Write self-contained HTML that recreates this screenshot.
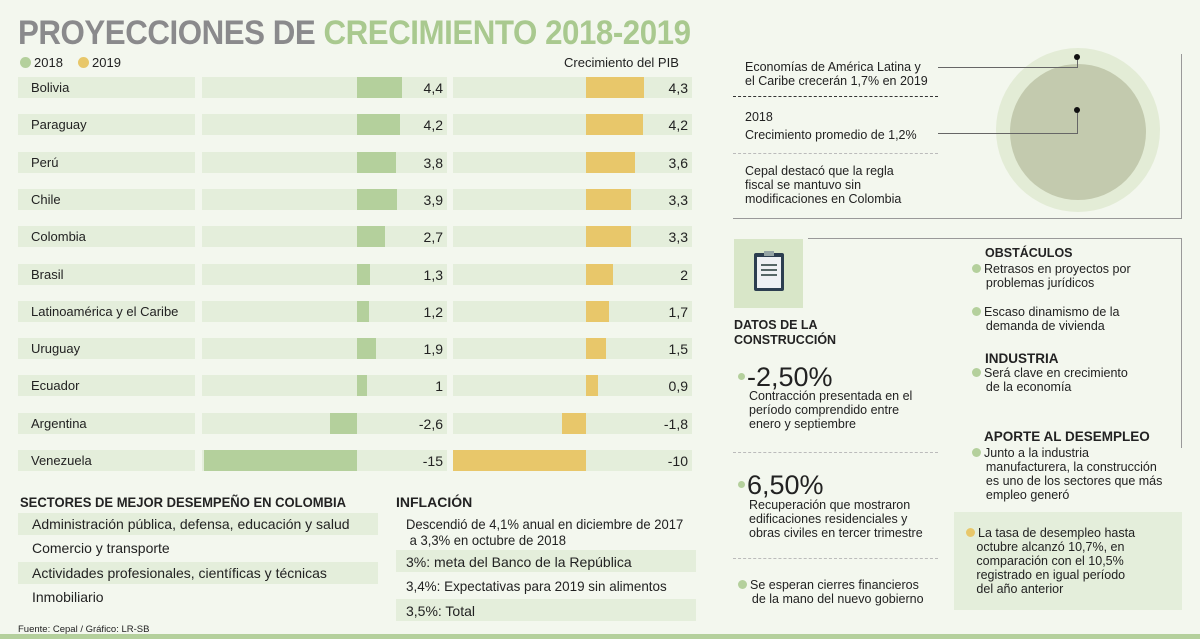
<!DOCTYPE html>
<html><head><meta charset="utf-8">
<style>
body{margin:0;width:1200px;height:639px;background:#f3f7ee;position:relative;overflow:hidden;font-family:"Liberation Sans Narrow","Liberation Sans",sans-serif;color:#222}
.a{position:absolute;white-space:nowrap}
.t{font-size:13px}
.track{position:absolute;background:#e4eedb}
.h{font-weight:bold;font-size:13px}
.r{font-family:"Liberation Sans",sans-serif;font-size:12.5px;line-height:14px;color:#222}
.dot{display:inline-block;width:9px;height:9px;border-radius:50%;background:#b4d09c;margin-right:3px}
.dash{position:absolute;border-top:1px dashed #777;height:0}
</style></head><body>
<div class="a" style="left:18px;top:14px;font-size:34px;font-weight:bold;color:#8a8a8c;letter-spacing:-0.5px;transform:scaleX(0.92);transform-origin:left">PROYECCIONES DE <span style="color:#a9c98f">CRECIMIENTO 2018-2019</span></div>
<div class="a t" style="left:20px;top:55px"><span class="dot" style="width:11px;height:11px;vertical-align:-1px"></span>2018</div>
<div class="a t" style="left:78px;top:55px"><span class="dot" style="width:11px;height:11px;vertical-align:-1px;background:#e8c76a"></span>2019</div>
<div class="a t" style="left:564px;top:55px">Crecimiento del PIB</div>
<div id="chart"></div>

<div class="a h" style="left:20px;top:494px;font-size:14px;transform:scaleX(0.93);transform-origin:left">SECTORES DE MEJOR DESEMPEÑO EN COLOMBIA</div>
<div class="track" style="left:18px;top:513px;width:360px;height:22px"></div>
<div class="track" style="left:18px;top:562px;width:360px;height:22px"></div>
<div class="a t" style="left:32px;top:516px;font-size:14px">Administración pública, defensa, educación y salud</div>
<div class="a t" style="left:32px;top:540px;font-size:14px">Comercio y transporte</div>
<div class="a t" style="left:32px;top:565px;font-size:14px">Actividades profesionales, científicas y técnicas</div>
<div class="a t" style="left:32px;top:589px;font-size:14px">Inmobiliario</div>
<div class="a" style="left:18px;top:624px;font-size:9.5px">Fuente: Cepal / Gráfico: LR-SB</div>

<div class="a h" style="left:396px;top:494px;font-size:14px">INFLACIÓN</div>
<div class="track" style="left:396px;top:550px;width:300px;height:22px"></div>
<div class="track" style="left:396px;top:599px;width:300px;height:22px"></div>
<div class="a t" style="left:406px;top:516px;font-size:14px;line-height:16px;transform:scaleX(0.93);transform-origin:left">Descendió de 4,1% anual en diciembre de 2017<br>&nbsp;a 3,3% en octubre de 2018</div>
<div class="a t" style="left:406px;top:554px;font-size:14px">3%: meta del Banco de la República</div>
<div class="a t" style="left:406px;top:578px;font-size:14px;transform:scaleX(0.96);transform-origin:left">3,4%: Expectativas para 2019 sin alimentos</div>
<div class="a t" style="left:406px;top:603px;font-size:14px">3,5%: Total</div>
<div class="a" style="left:0;top:634px;width:1200px;height:5px;background:#b4d09c"></div>

<!-- top right -->
<div class="a" style="left:996px;top:48px;width:164px;height:164px;border-radius:50%;background:#e3ecd6"></div>
<div class="a" style="left:1010px;top:64px;width:136px;height:136px;border-radius:50%;background:#c3caae"></div>
<div class="a" style="left:1181px;top:54px;width:1px;height:164px;background:#999"></div>
<div class="a" style="left:733px;top:218px;width:449px;height:1px;background:#999"></div>
<div class="a r" style="left:745px;top:60px">Economías de América Latina y<br>el Caribe crecerán 1,7% en 2019</div>
<div class="a" style="left:938px;top:67px;width:140px;height:1px;background:#666"></div>
<div class="a" style="left:1077px;top:57px;width:1px;height:11px;background:#666"></div>
<div class="a" style="left:1074px;top:54px;width:6px;height:6px;border-radius:50%;background:#111"></div>
<div class="dash" style="left:733px;top:96px;width:205px;border-top:1.5px dashed #333"></div>
<div class="a r" style="left:745px;top:108px;line-height:18px">2018<br>Crecimiento promedio de 1,2%</div>
<div class="a" style="left:938px;top:133px;width:140px;height:1px;background:#666"></div>
<div class="a" style="left:1077px;top:110px;width:1px;height:24px;background:#666"></div>
<div class="a" style="left:1074px;top:107px;width:6px;height:6px;border-radius:50%;background:#111"></div>
<div class="dash" style="left:733px;top:153px;width:205px;border-top:1px dashed #bbb"></div>
<div class="a r" style="left:745px;top:164px">Cepal destacó que la regla<br>fiscal se mantuvo sin<br>modificaciones en Colombia</div>

<!-- construction -->
<div class="a" style="left:808px;top:238px;width:374px;height:1px;background:#999"></div>
<div class="a" style="left:1181px;top:238px;width:1px;height:210px;background:#999"></div>
<div class="a" style="left:734px;top:239px;width:69px;height:69px;background:#d8e6c8;overflow:hidden">
<div style="position:absolute;left:20px;top:14px;width:30px;height:38px;background:#2c3e50;border-radius:2px"></div>
<div style="position:absolute;left:23px;top:18px;width:24px;height:31px;background:#eef1f4"></div>
<div style="position:absolute;left:30px;top:12px;width:10px;height:5px;background:#95a5a6"></div>
<div style="position:absolute;left:27px;top:25px;width:16px;height:1.5px;background:#566"></div>
<div style="position:absolute;left:27px;top:30px;width:16px;height:1.5px;background:#566"></div>
<div style="position:absolute;left:27px;top:35px;width:16px;height:1.5px;background:#566"></div>
</div>
<div class="a r" style="left:734px;top:318px;font-weight:bold;line-height:15px">DATOS DE LA<br>CONSTRUCCIÓN</div>
<div class="a" style="left:738px;top:362px;font-size:27px"><span class="dot" style="width:7px;height:7px;vertical-align:6px;margin-right:2px"></span>-2,50%</div>
<div class="a r" style="left:749px;top:389px">Contracción presentada en el<br>período comprendido entre<br>enero y septiembre</div>
<div class="dash" style="left:733px;top:452px;width:205px;border-top:1px dashed #bbb"></div>
<div class="a" style="left:738px;top:470px;font-size:27px"><span class="dot" style="width:7px;height:7px;vertical-align:6px;margin-right:2px"></span>6,50%</div>
<div class="a r" style="left:749px;top:498px">Recuperación que mostraron<br>edificaciones residenciales y<br>obras civiles en tercer trimestre</div>
<div class="dash" style="left:733px;top:558px;width:205px;border-top:1px dashed #bbb"></div>
<div class="a r" style="left:738px;top:578px"><span class="dot"></span>Se esperan cierres financieros<br>&nbsp;&nbsp;&nbsp;&nbsp;de la mano del nuevo gobierno</div>

<div class="a r" style="left:985px;top:246px;font-weight:bold">OBSTÁCULOS</div>
<div class="a r" style="left:972px;top:262px"><span class="dot"></span>Retrasos en proyectos por<br>&nbsp;&nbsp;&nbsp;&nbsp;problemas jurídicos</div>
<div class="a r" style="left:972px;top:305px"><span class="dot"></span>Escaso dinamismo de la<br>&nbsp;&nbsp;&nbsp;&nbsp;demanda de vivienda</div>
<div class="a r" style="left:985px;top:352px;font-weight:bold;font-size:13.5px">INDUSTRIA</div>
<div class="a r" style="left:972px;top:366px"><span class="dot"></span>Será clave en crecimiento<br>&nbsp;&nbsp;&nbsp;&nbsp;de la economía</div>
<div class="a r" style="left:984px;top:430px;font-weight:bold;font-size:13.5px">APORTE AL DESEMPLEO</div>
<div class="a r" style="left:972px;top:446px"><span class="dot"></span>Junto a la industria<br>&nbsp;&nbsp;&nbsp;&nbsp;manufacturera, la construcción<br>&nbsp;&nbsp;&nbsp;&nbsp;es uno de los sectores que más<br>&nbsp;&nbsp;&nbsp;&nbsp;empleo generó</div>
<div class="a" style="left:954px;top:512px;width:228px;height:98px;background:#e4eedb"></div>
<div class="a r" style="left:966px;top:526px"><span class="dot" style="background:#e8c76a"></span>La tasa de desempleo hasta<br>&nbsp;&nbsp;&nbsp;octubre alcanzó 10,7%, en<br>&nbsp;&nbsp;&nbsp;comparación con el 10,5%<br>&nbsp;&nbsp;&nbsp;registrado en igual período<br>&nbsp;&nbsp;&nbsp;del año anterior</div>

<script>
const countries=["Bolivia","Paraguay","Perú","Chile","Colombia","Brasil","Latinoamérica y el Caribe","Uruguay","Ecuador","Argentina","Venezuela"];
const values2018=[4.4,4.2,3.8,3.9,2.7,1.3,1.2,1.9,1,-2.6,-15];
const values2019=[4.3,4.2,3.6,3.3,3.3,2,1.7,1.5,0.9,-1.8,-10];
const labels2018=["4,4","4,2","3,8","3,9","2,7","1,3","1,2","1,9","1","-2,6","-15"];
const labels2019=["4,3","4,2","3,6","3,3","3,3","2","1,7","1,5","0,9","-1,8","-10"];

const chart=document.getElementById('chart');
const rowY=i=>77+i*37.3;
const panels=[{x0:202,x1:447,zero:357,k:10.2,vals:values2018,labs:labels2018,col:'#b4d09c',name:'2018'},
              {x0:453,x1:692,zero:586,k:13.6,vals:values2019,labs:labels2019,col:'#e8c76a',name:'2019'}];
function add(tag,style,name,text){
  const e=document.createElement('div');
  e.className=tag;
  e.style.cssText=style;
  
  
  if(text!==undefined)e.textContent=text;
  chart.appendChild(e);return e;
}
countries.forEach((c,i)=>{
  const y=rowY(i);
  add('track',`left:18px;top:${y}px;width:177px;height:21px`,'country-track');
  add('a t',`left:31px;top:${y+3}px;font-size:13px`,'country-label',c);
  panels.forEach(p=>{
    add('track',`left:${p.x0}px;top:${y}px;width:${p.x1-p.x0}px;height:21px`,'bar-track-'+p.name);
    const v=p.vals[i];
    let a=p.zero,b=p.zero+v*p.k;
    if(b<p.x0)b=p.x0;
    const l=Math.min(a,b),w=Math.abs(b-a);
    add('a',`left:${l}px;top:${y}px;width:${w}px;height:21px;background:${p.col}`,'bar-'+p.name);
    add('a t',`right:${1200-p.x1+4}px;top:${y+3}px;font-size:14px`,'value-label-'+p.name,p.labs[i]);
  });
});
</script>
</body></html>
